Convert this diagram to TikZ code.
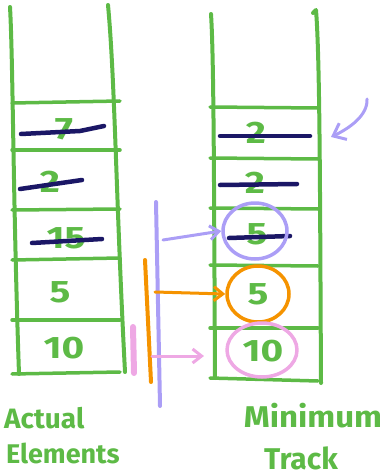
\documentclass[tikz,border=0pt]{standalone}
\usepackage{fontspec}
\setmainfont{Fira Sans}
\usetikzlibrary{shapes.geometric,arrows.meta}
\definecolor{pen}{HTML}{5DBA46}
\definecolor{ink}{HTML}{1B1766}
\definecolor{lav}{HTML}{AB9EF6}
\definecolor{org}{HTML}{F59300}
\definecolor{pnk}{HTML}{EEA8E4}
\begin{document}
\begin{tikzpicture}[x=1pt,y=-1pt,line cap=round,line join=round,
  wall/.style={pen,line width=4pt},
  rung/.style={pen,line width=3.5pt},
  strike/.style={ink,line width=4.5pt},
  num/.style={pen,font=\fontsize{31}{31}\selectfont\bfseries,xscale=1.25},
  lbl/.style={pen,font=\fontsize{30}{30}\selectfont\bfseries,inner sep=0pt},
  ring/.style={ellipse,line width=3.5pt,minimum width=64pt,minimum height=56pt,inner sep=0pt},
  hand/.style={-{Straight Barb[length=9pt,width=14pt,line width=3pt]},line width=3pt}]
\useasboundingbox (0,0) rectangle (391,476);

% ---- Actual Elements stack ----
\draw[wall] (10,7) .. controls (13,60) and (13,200) .. (19,374);
\draw[wall] (108,5) .. controls (115,80) and (116,200) .. (125,372);
\foreach \ya/\yb in {103/101,150/150,210/209,260/258,320/320,374/372}
  \draw[rung] (12,\ya) -- (120,\yb);

\node[num] (a7)  at (64,129) {7};
\node[num] (a2)  at (50,182) {2};
\node[num] (a15) at (66,238) {15};
\node[num] (a5)  at (60,292) {5};
\node[num] (a10) at (64,348) {10};
\draw[strike] (21,134) -- (80,131) -- (104,126);
\draw[strike] (20,189) -- (82,180);
\draw[strike] (32,243) -- (102,239);

% ---- Minimum Track stack ----
\draw[wall] (211,14) .. controls (214,60) and (214,200) .. (215,378);
\draw[wall] (313,13) -- (316,10) .. controls (320,60) and (320,200) .. (321,383);
\foreach \ya/\yb in {107/108,158/159,208/209,265/266,328/328,378/381}
  \draw[rung] (210,\ya) -- (318,\yb);

\node[num] (m2a) at (256,133) {2};
\node[num] (m2b) at (255,183) {2};
\node[num] (m5a) at (257,234) {5};
\node[num] (m5b) at (258,294) {5};
\node[num] (m10) at (263,351) {10};
\draw[strike] (220,136) -- (310,136);
\draw[strike] (220,185) -- (297,184);
\draw[strike] (229,238) -- (290,236);

% ---- circled entries ----
\node[ring,draw=lav] (c1) at (255,231) {};
\node[ring,draw=org,minimum width=62pt] (c2) at (258,294) {};
\node[ring,draw=pnk,minimum width=70pt,minimum height=54pt] (c3) at (262,350) {};

% ---- brackets and pointers ----
\draw[lav,line width=4pt] (156,202) -- (160,406);
\draw[org,line width=4pt] (145,260) -- (151,382);
\draw[pnk,line width=6pt] (133,327) -- (134,373);

\coordinate (p1) at (163,240);
\coordinate (p2) at (155,292);
\coordinate (p3) at (152,356);
\draw[hand,lav] (p1) -- (c1.west);
\draw[hand,org] (p2) -- (c2.west);
\draw[hand,pnk] (p3) -- (204,356);

% ---- marker for the current minimum ----
\coordinate (q0) at (367,99);
\coordinate (q1) at (331,137);
\draw[hand,lav,-{Straight Barb[length=11pt,width=18pt,line width=3pt]}] (q0) .. controls (368,115) and (350,128) .. (q1);

% ---- captions ----
\node[lbl,anchor=west,font=\fontsize{28}{28}\selectfont\bfseries] (capA1) at (4,418) {Actual};
\node[lbl,anchor=west,font=\fontsize{27}{27}\selectfont\bfseries] (capA2) at (6,453) {Elements};
\node[lbl,xscale=1.1] (capM1) at (313,416) {Minimum};
\node[lbl] (capM2) at (301,458) {Track};
\end{tikzpicture}
\end{document}
